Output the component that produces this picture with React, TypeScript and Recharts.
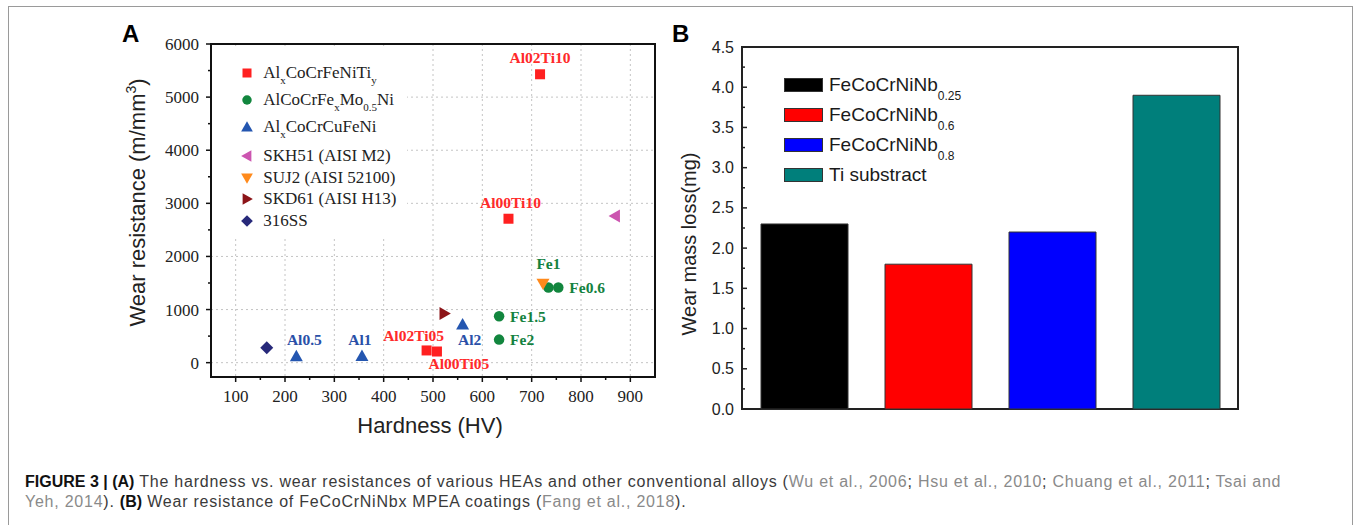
import React from "react";
import {
  Bar,
  BarChart,
  CartesianGrid,
  Cell,
  Legend,
  ReferenceArea,
  Scatter,
  ScatterChart,
  XAxis,
  YAxis,
} from "recharts";

const SERIF = '"Liberation Serif", "Times New Roman", serif';
const SANS = '"Liberation Sans", Arial, Helvetica, sans-serif';

// ---- panel A: hardness (HV) vs wear resistance (m/mm3)
const alCoCrFeNiTi = [
  { hv: 717, wr: 5430, label: "Al02Ti10" },
  { hv: 653, wr: 2710, label: "Al00Ti10" },
  { hv: 487, wr: 230, label: "Al02Ti05" },
  { hv: 508, wr: 210, label: "Al00Ti05" },
];
const alCoCrFeMoNi = [
  { hv: 734, wr: 1415, label: "Fe1" },
  { hv: 754, wr: 1415, label: "Fe0.6" },
  { hv: 634, wr: 873, label: "Fe1.5" },
  { hv: 634, wr: 434, label: "Fe2" },
];
const alCoCrCuFeNi = [
  { hv: 223, wr: 120, label: "Al0.5" },
  { hv: 356, wr: 125, label: "Al1" },
  { hv: 560, wr: 717, label: "Al2" },
];
const skh51 = [{ hv: 869, wr: 2760 }];
const suj2 = [{ hv: 723, wr: 1490 }];
const skd61 = [{ hv: 523, wr: 925 }];
const ss316 = [{ hv: 163, wr: 283 }];

// {..} marks a subscript
const seriesNamesA = [
  "Al{x}CoCrFeNiTi{y}",
  "AlCoCrFe{x}Mo{0.5}Ni",
  "Al{x}CoCrCuFeNi",
  "SKH51 (AISI M2)",
  "SUJ2 (AISI 52100)",
  "SKD61 (AISI H13)",
  "316SS",
];
const seriesDataA = [alCoCrFeNiTi, alCoCrFeMoNi, alCoCrCuFeNi, skh51, suj2, skd61, ss316];

const hvMajor = [100, 200, 300, 400, 500, 600, 700, 800, 900];
const hvMinor = [150, 250, 350, 450, 550, 650, 750, 850];
const wrMajor = [0, 1000, 2000, 3000, 4000, 5000, 6000];
const wrMinor = [500, 1500, 2500, 3500, 4500, 5500];

// ---- panel B: wear mass loss of FeCoCrNiNbx coatings
const coatings = ["FeCoCrNiNb{0.25}", "FeCoCrNiNb{0.6}", "FeCoCrNiNb{0.8}", "Ti substract"];
const massLoss = [2.3, 1.8, 2.2, 3.9];
const lossMajor = [0, 0.5, 1, 1.5, 2, 2.5, 3, 3.5, 4, 4.5];
const lossMinor = [0.25, 0.75, 1.25, 1.75, 2.25, 2.75, 3.25, 3.75, 4.25];

const STYLE_A = [
  { color: "#ff2020", marker: "square", size: 10, text: "#ff2a2a" },
  { color: "#12863e", marker: "circle", size: 10.5, text: "#14823f" },
  { color: "#2456b0", marker: "up", size: 13, text: "#2a50a8" },
  { color: "#cc55b0", marker: "left", size: 13, text: "" },
  { color: "#ff8a1c", marker: "down", size: 13, text: "" },
  { color: "#8c1418", marker: "right", size: 13, text: "" },
  { color: "#27297a", marker: "diamond", size: 13, text: "" },
];
const COLORS_B = ["#000000", "#ff0000", "#0000ff", "#007f7b"];

// point label offsets [dx, dy, anchor]
const LABEL_POS: Record<string, [number, number, string]> = {
  Al02Ti10: [0, -17, "middle"],
  Al00Ti10: [2, -16, "middle"],
  Al02Ti05: [-13, -15, "middle"],
  Al00Ti05: [22, 12, "middle"],
  Fe1: [0, -24, "middle"],
  "Fe0.6": [11, 0, "start"],
  "Fe1.5": [11, 0, "start"],
  Fe2: [11, 0, "start"],
  "Al0.5": [8, -17, "middle"],
  Al1: [-2, -16, "middle"],
  Al2: [7, 15, "middle"],
};

function Rich({ text, subSize, subShift }: { text: string; subSize: number; subShift: number }) {
  const parts = text.split(/(\{[^}]*\})/).filter(Boolean);
  return (
    <>
      {parts.map((p, i) =>
        p.startsWith("{") ? (
          <span key={i} style={{ fontSize: subSize, position: "relative", top: subShift }}>
            {p.slice(1, -1)}
          </span>
        ) : (
          <span key={i}>{p}</span>
        )
      )}
    </>
  );
}

function Marker({ kind, cx, cy, s, fill }: { kind: string; cx: number; cy: number; s: number; fill: string }) {
  const h = s / 2;
  if (kind === "square") return <rect x={cx - h} y={cy - h} width={s} height={s} fill={fill} />;
  if (kind === "circle") return <circle cx={cx} cy={cy} r={h} fill={fill} />;
  let pts: number[][] = [];
  if (kind === "up") pts = [[cx, cy - h], [cx + h, cy + h * 0.75], [cx - h, cy + h * 0.75]];
  if (kind === "down") pts = [[cx - h, cy - h * 0.75], [cx + h, cy - h * 0.75], [cx, cy + h]];
  if (kind === "left") pts = [[cx - h, cy], [cx + h * 0.75, cy - h], [cx + h * 0.75, cy + h]];
  if (kind === "right") pts = [[cx + h, cy], [cx - h * 0.75, cy - h], [cx - h * 0.75, cy + h]];
  if (kind === "diamond") pts = [[cx, cy - h], [cx + h, cy], [cx, cy + h], [cx - h, cy]];
  return <polygon points={pts.map((p) => p.join(",")).join(" ")} fill={fill} />;
}

function makePoint(st: (typeof STYLE_A)[number]) {
  return (props: any) => {
    const { cx, cy, payload } = props;
    const label = payload?.label;
    const pos = label ? LABEL_POS[label] : null;
    return (
      <g>
        <Marker kind={st.marker} cx={cx} cy={cy} s={st.size} fill={st.color} />
        {pos ? (
          <text
            x={cx + pos[0]}
            y={cy + pos[1]}
            dy="0.35em"
            textAnchor={pos[2] as any}
            fill={st.text}
            fontFamily={SERIF}
            fontWeight={700}
            fontSize={15.5}
          >
            {label}
          </text>
        ) : null}
      </g>
    );
  };
}

function XTickA({ x, y, payload }: any) {
  const major = hvMajor.includes(payload.value);
  return (
    <g>
      <line x1={x} x2={x} y1={y} y2={y + (major ? 5 : 3)} stroke="#111" strokeWidth={1.5} />
      {major ? (
        <text x={x} y={y + 19} dy="0.35em" textAnchor="middle" fontFamily={SERIF} fontSize={17} fill="#222">
          {payload.value}
        </text>
      ) : null}
    </g>
  );
}

function YTickA({ x, y, payload }: any) {
  const major = wrMajor.includes(payload.value);
  return (
    <g>
      <line x1={x} x2={x - (major ? 5 : 3)} y1={y} y2={y} stroke="#111" strokeWidth={1.5} />
      {major ? (
        <text x={x - 12} y={y} dy="0.35em" textAnchor="end" fontFamily={SERIF} fontSize={17} fill="#222">
          {payload.value}
        </text>
      ) : null}
    </g>
  );
}

function YTickB({ x, y, payload }: any) {
  const major = lossMajor.includes(payload.value);
  return (
    <g>
      <line x1={x} x2={x + (major ? 5 : 3)} y1={y} y2={y} stroke="#222" strokeWidth={1.5} />
      {major ? (
        <text x={x - 8} y={y} dy="0.35em" textAnchor="end" fontFamily={SANS} fontSize={16} fill="#222">
          {payload.value.toFixed(1)}
        </text>
      ) : null}
    </g>
  );
}

const yTitleA = (props: any) => {
  const vb = props.viewBox;
  const cx = vb.x + 26;
  const cy = vb.y + vb.height / 2 - 8;
  return (
    <text
      x={cx}
      y={cy}
      dy="0.35em"
      transform={`rotate(-90, ${cx}, ${cy})`}
      textAnchor="middle"
      fontFamily={SANS}
      fontSize={22}
      fill="#222"
    >
      Wear resistance (m/mm
      <tspan dy={-9} fontSize={14}>
        3
      </tspan>
      <tspan dy={9}>)</tspan>
    </text>
  );
};

const xTitleA = (props: any) => {
  const vb = props.viewBox;
  return (
    <text
      x={vb.x + vb.width / 2 - 3}
      y={vb.y + 48}
      dy="0.35em"
      textAnchor="middle"
      fontFamily={SANS}
      fontSize={22}
      fill="#222"
    >
      Hardness (HV)
    </text>
  );
};

const yTitleB = (props: any) => {
  const vb = props.viewBox;
  const cx = vb.x + 7;
  const cy = vb.y + vb.height / 2 + 16;
  return (
    <text
      x={cx}
      y={cy}
      dy="0.35em"
      transform={`rotate(-90, ${cx}, ${cy})`}
      textAnchor="middle"
      fontFamily={SANS}
      fontSize={20}
      fill="#222"
    >
      Wear mass loss(mg)
    </text>
  );
};

function LegendA() {
  return (
    <div style={{ background: "#fff", paddingTop: 13.8, width: 195, height: 176 }}>
      {seriesNamesA.map((name, i) => (
        <div
          key={name}
          style={{
            display: "flex",
            alignItems: "center",
            height: i < 3 ? 27 : 21.5,
            marginTop: i === 3 ? 4.5 : 0,
            paddingLeft: 26.7,
            fontFamily: SERIF,
            fontSize: 17,
            color: "#222",
            whiteSpace: "nowrap",
          }}
        >
          <svg width={16} height={16} style={{ flex: "none" }}>
            <Marker kind={STYLE_A[i].marker} cx={8} cy={8} s={STYLE_A[i].size * 0.9} fill={STYLE_A[i].color} />
          </svg>
          <span style={{ marginLeft: 8.6 }}>
            <Rich text={name} subSize={11} subShift={6} />
          </span>
        </div>
      ))}
    </div>
  );
}

function LegendB() {
  return (
    <div style={{ paddingTop: 0 }}>
      {coatings.map((name, i) => (
        <div
          key={name}
          style={{
            display: "flex",
            alignItems: "center",
            height: 30,
            fontFamily: SANS,
            fontSize: 19,
            color: "#1a1a1a",
            whiteSpace: "nowrap",
          }}
        >
          <div
            style={{
              width: 37,
              height: 12,
              background: COLORS_B[i],
              border: "1px solid #333",
              flex: "none",
            }}
          />
          <span style={{ marginLeft: 6 }}>
            <Rich text={name} subSize={12} subShift={9} />
          </span>
        </div>
      ))}
    </div>
  );
}

function PanelA() {
  return (
    <ScatterChart width={665} height={440} margin={{ top: 44, right: 10, bottom: 23, left: 111 }}>
      <CartesianGrid
        stroke="#c4c4c4"
        strokeDasharray="2 3"
        horizontalValues={wrMajor}
        verticalValues={hvMajor}
      />
      <XAxis
        type="number"
        dataKey="hv"
        domain={[50, 950]}
        ticks={[...hvMajor, ...hvMinor].sort((a, b) => a - b)}
        interval={0}
        tick={<XTickA />}
        tickLine={false}
        tickSize={0}
        tickMargin={0}
        axisLine={false}
        height={40}
        label={xTitleA}
      />
      <YAxis
        type="number"
        dataKey="wr"
        domain={[-270, 6000]}
        ticks={[...wrMajor, ...wrMinor].sort((a, b) => a - b)}
        interval={0}
        tick={<YTickA />}
        tickLine={false}
        tickSize={0}
        tickMargin={0}
        axisLine={false}
        width={100}
        label={yTitleA}
      />
      <Legend
        content={() => <LegendA />}
        layout="vertical"
        align="center"
        verticalAlign="middle"
        wrapperStyle={{ left: 212, top: 46, width: 195, height: 190 }}
      />
      {seriesDataA.map((data, i) => (
        <Scatter
          key={seriesNamesA[i]}
          name={seriesNamesA[i]}
          data={data}
          fill={STYLE_A[i].color}
          shape={makePoint(STYLE_A[i])}
          isAnimationActive={false}
        />
      ))}
      <ReferenceArea
        x1={50}
        x2={950}
        y1={-270}
        y2={6000}
        fill="none"
        stroke="#111"
        strokeWidth={2}
        ifOverflow="visible"
      />
    </ScatterChart>
  );
}

function PanelB() {
  const data = coatings.map((name, i) => ({ name, loss: massLoss[i] }));
  return (
    <BarChart width={600} height={440} data={data} margin={{ top: 47, right: 27, bottom: 31, left: 17 }}>
      <XAxis dataKey="name" tick={false} tickLine={false} axisLine={false} height={0} />
      <YAxis
        type="number"
        domain={[0, 4.5]}
        ticks={[...lossMajor, ...lossMinor].sort((a, b) => a - b)}
        interval={0}
        tick={<YTickB />}
        tickLine={false}
        tickSize={0}
        tickMargin={0}
        axisLine={false}
        width={60}
        label={yTitleB}
      />
      <Legend
        content={() => <LegendB />}
        layout="vertical"
        align="center"
        verticalAlign="middle"
        wrapperStyle={{ left: 119, top: 70, width: 260, height: 120 }}
      />
      <Bar dataKey="loss" barSize={87} stroke="#333" strokeWidth={1} isAnimationActive={false}>
        {data.map((d, i) => (
          <Cell key={d.name} fill={COLORS_B[i]} />
        ))}
      </Bar>
      <ReferenceArea y1={0} y2={4.5} fill="none" stroke="#222" strokeWidth={2} ifOverflow="visible" />
    </BarChart>
  );
}

const cite = { color: "#8a8a8a" };
const bold = { color: "#111", letterSpacing: 0 };

export default function App() {
  return (
    <div
      style={{
        position: "absolute",
        left: 0,
        top: 0,
        width: 1354,
        height: 525,
        overflow: "hidden",
        background: "#fff",
      }}
    >
      <div
        style={{
          position: "absolute",
          left: 8,
          top: 6,
          width: 1343,
          height: 560,
          border: "1px solid #9a9a9a",
        }}
      />
      <div style={{ position: "absolute", left: 0, top: 0 }}>
        <PanelA />
      </div>
      <div style={{ position: "absolute", left: 665, top: 0 }}>
        <PanelB />
      </div>
      <div
        style={{
          position: "absolute",
          left: 122,
          top: 22,
          fontFamily: SANS,
          fontWeight: 700,
          fontSize: 24,
          lineHeight: "24px",
        }}
      >
        A
      </div>
      <div
        style={{
          position: "absolute",
          left: 672,
          top: 22,
          fontFamily: SANS,
          fontWeight: 700,
          fontSize: 24,
          lineHeight: "24px",
        }}
      >
        B
      </div>
      <div
        style={{
          position: "absolute",
          left: 25,
          top: 472,
          fontFamily: SANS,
          fontSize: 16,
          lineHeight: "20px",
          letterSpacing: 0.76,
          color: "#3a3a3a",
          whiteSpace: "nowrap",
        }}
      >
        <div>
          <b style={bold}>FIGURE 3 | (A)</b> The hardness vs. wear resistances of various HEAs and other
          conventional alloys (<span style={cite}>Wu et al., 2006</span>;{" "}
          <span style={cite}>Hsu et al., 2010</span>; <span style={cite}>Chuang et al., 2011</span>;{" "}
          <span style={cite}>Tsai and</span>
        </div>
        <div>
          <span style={cite}>Yeh, 2014</span>). <b style={bold}>(B)</b> Wear resistance of FeCoCrNiNbx MPEA
          coatings (<span style={cite}>Fang et al., 2018</span>).
        </div>
      </div>
    </div>
  );
}
